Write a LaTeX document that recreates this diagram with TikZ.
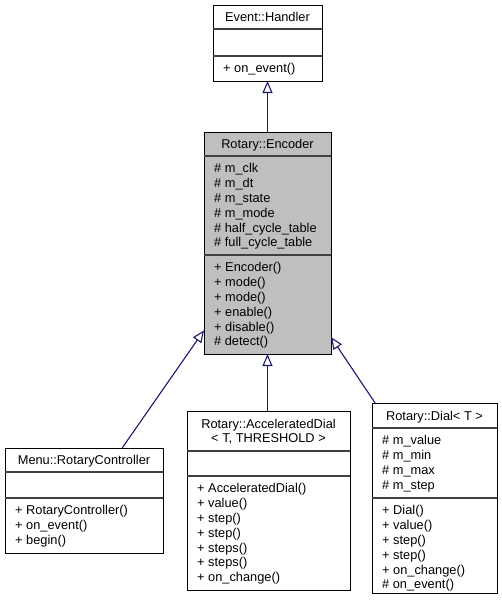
\documentclass[tikz,border=0pt]{standalone}
\usepackage{fontspec}
\setmainfont{Liberation Sans}
\usetikzlibrary{arrows.meta}
\definecolor{edgeblue}{HTML}{191970}
\definecolor{encgray}{HTML}{BFBFBF}
\definecolor{sepcol}{HTML}{404040}
\newcommand\classlines[4]{%
  \foreach \t [count=\i] in {#4} \node[txt] (#1-\i) at (#2, {#3+16.9+14.8*(\i-1)}) {\t};}
\begin{document}
\begin{tikzpicture}[x=1pt,y=-1pt,
  classbox/.style={draw=black, line width=0.9pt, fill=white, inner sep=0pt, outer sep=0pt, anchor=north west},
  sepline/.style={draw=sepcol, line width=1.2pt},
  txt/.style={anchor=base west, inner sep=0pt, font=\fontsize{12.8}{14.8}\selectfont},
  ttl/.style={anchor=base, inner sep=0pt, font=\fontsize{12.8}{14.8}\selectfont},
  inh/.style={draw=edgeblue, line width=1.1pt, -{Triangle[length=12pt,width=10pt,fill=white]}}]
\useasboundingbox (0,0) rectangle (502,603);

% Event::Handler
\node[classbox, minimum width=109pt, minimum height=76pt] (eh) at (213,5) {};
\draw[sepline] (213,29) -- (322,29);
\draw[sepline] (213,56) -- (322,56);
\node[ttl] (eh-t) at (267.5,21.6) {Event::Handler};
\classlines{ehm}{223}{56}{{+ on\_event()}}

% Rotary::Encoder
\node[classbox, fill=encgray, minimum width=127pt, minimum height=222pt] (enc) at (204,132) {};
\draw[sepline] (204,156) -- (331,156);
\draw[sepline] (204,255) -- (331,255);
\node[ttl] (enc-t) at (267.5,148.6) {Rotary::Encoder};
\classlines{enca}{214}{156}{{\# m\_clk},{\# m\_dt},{\# m\_state},{\# m\_mode},{\# half\_cycle\_table},{\# full\_cycle\_table}}
\classlines{encm}{214}{255}{{+ Encoder()},{+ mode()},{+ mode()},{+ enable()},{+ disable()},{\# detect()}}

% Menu::RotaryController
\node[classbox, minimum width=158pt, minimum height=105pt] (rc) at (5,448) {};
\draw[sepline] (5,472) -- (163,472);
\draw[sepline] (5,498) -- (163,498);
\node[ttl] (rc-t) at (84,464.6) {Menu::RotaryController};
\classlines{rcm}{15}{498}{{+ RotaryController()},{+ on\_event()},{+ begin()}}

% Rotary::AcceleratedDial
\node[classbox, minimum width=163pt, minimum height=179pt] (ad) at (187,411) {};
\draw[sepline] (187,451) -- (350,451);
\draw[sepline] (187,476) -- (350,476);
\node[ttl] (ad-t1) at (268.5,428) {Rotary::AcceleratedDial};
\node[ttl] (ad-t2) at (268.5,442.8) {< T, THRESHOLD >};
\classlines{adm}{197}{476}{{+ AcceleratedDial()},{+ value()},{+ step()},{+ step()},{+ steps()},{+ steps()},{+ on\_change()}}

% Rotary::Dial< T >
\node[classbox, minimum width=125pt, minimum height=190pt] (dial) at (372,403) {};
\draw[sepline] (372,428) -- (497,428);
\draw[sepline] (372,498) -- (497,498);
\node[ttl] (dial-t) at (434.5,420.1) {Rotary::Dial< T >};
\classlines{diala}{382}{428}{{\# m\_value},{\# m\_min},{\# m\_max},{\# m\_step}}
\classlines{dialm}{382}{498}{{+ Dial()},{+ value()},{+ step()},{+ step()},{+ on\_change()},{\# on\_event()}}

% inheritance
\draw[inh] (enc.north) -- (eh.south);
\draw[inh] (ad.north -| enc.south) -- (enc.south);
\draw[inh] (rc.54) -- (enc.234.8);
\draw[inh] (dial.122.5) -- (enc.-56.8);
\end{tikzpicture}
\end{document}
